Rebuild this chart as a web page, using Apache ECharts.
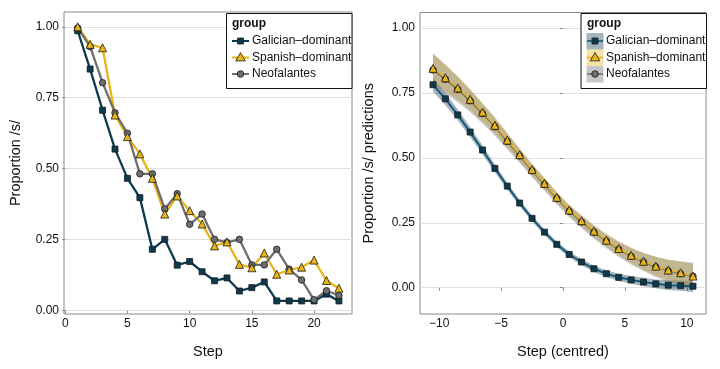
<!DOCTYPE html>
<html><head><meta charset="utf-8">
<script src="https://cdn.jsdelivr.net/npm/echarts@6/dist/echarts.min.js"></script>
<style>html,body{margin:0;padding:0;background:#fff}#c{width:720px;height:369px}</style>
</head><body><div id="c"></div>
<script>
// ---------- data ----------
const groups = ['Galician\u2013dominant', 'Spanish\u2013dominant', 'Neofalantes'];
const steps = [1,2,3,4,5,6,7,8,9,10,11,12,13,14,15,16,17,18,19,20,21,22];
const galicianObs = [0.986,0.851,0.706,0.569,0.466,0.398,0.216,0.251,0.160,0.173,0.137,0.105,0.115,0.069,0.081,0.101,0.034,0.034,0.034,0.034,0.058,0.034];
const spanishObs  = [1.000,0.938,0.926,0.689,0.613,0.552,0.466,0.340,0.404,0.352,0.305,0.228,0.242,0.163,0.151,0.203,0.128,0.143,0.153,0.178,0.106,0.079];
const neoObs      = [0.996,0.930,0.803,0.697,0.625,0.482,0.482,0.358,0.412,0.304,0.340,0.251,0.240,0.251,0.161,0.161,0.216,0.146,0.108,0.038,0.070,0.053];

const centred = [-10.5,-9.5,-8.5,-7.5,-6.5,-5.5,-4.5,-3.5,-2.5,-1.5,-0.5,0.5,1.5,2.5,3.5,4.5,5.5,6.5,7.5,8.5,9.5,10.5];
const galicianPred = [0.781,0.727,0.665,0.599,0.530,0.459,0.391,0.326,0.267,0.214,0.167,0.128,0.099,0.073,0.054,0.040,0.030,0.022,0.015,0.010,0.008,0.006];
const galicianLo   = [0.754,0.703,0.644,0.580,0.513,0.444,0.378,0.314,0.256,0.203,0.156,0.117,0.087,0.061,0.041,0.026,0.015,0.006,-0.002,-0.009,-0.012,-0.016];
const galicianHi   = [0.808,0.751,0.686,0.618,0.547,0.474,0.404,0.338,0.278,0.225,0.178,0.139,0.111,0.085,0.067,0.054,0.045,0.038,0.032,0.029,0.028,0.028];
const spanishPred  = [0.844,0.808,0.769,0.725,0.676,0.625,0.568,0.512,0.455,0.402,0.348,0.299,0.258,0.218,0.183,0.151,0.125,0.102,0.083,0.068,0.058,0.045];
const spanishLo    = [0.786,0.756,0.723,0.684,0.640,0.593,0.540,0.487,0.432,0.380,0.327,0.278,0.236,0.195,0.158,0.124,0.095,0.069,0.047,0.028,0.014,-0.003];
const spanishHi    = [0.902,0.860,0.815,0.766,0.712,0.657,0.596,0.537,0.478,0.424,0.369,0.320,0.280,0.241,0.208,0.178,0.155,0.135,0.119,0.108,0.102,0.093];
const neoPred      = [0.838,0.802,0.763,0.719,0.670,0.619,0.563,0.507,0.450,0.397,0.343,0.294,0.253,0.214,0.179,0.148,0.121,0.099,0.080,0.065,0.054,0.044];
const neoLo        = [0.776,0.747,0.714,0.676,0.632,0.585,0.533,0.480,0.425,0.373,0.320,0.271,0.229,0.189,0.152,0.119,0.089,0.064,0.041,0.022,0.007,-0.008];
const neoHi        = [0.900,0.857,0.812,0.762,0.708,0.653,0.593,0.534,0.475,0.421,0.366,0.317,0.277,0.239,0.206,0.177,0.153,0.134,0.119,0.108,0.101,0.096];

const xTicksLeft  = [0,5,10,15,20];
const xTicksRight = [-10,-5,0,5,10];
const yTicks      = [0,0.25,0.5,0.75,1];

// ---------- styles ----------
const FONT = "'Liberation Sans', Arial, Helvetica, sans-serif";
const C_GAL = '#0c3b50', C_SPA = '#e8b417', C_NEO = '#6e6e6e';
const C_GAL_LINE_R = '#17597a';
const BORDER = '#8a8a8a', GRID = '#e0e0e0', TXT = '#111111';

function zip(xs, ys){ return xs.map((x,i)=>[x, ys[i]]); }

function yAxisDef(gi, min, max, name, gap){
  return {
    type:'value', gridIndex:gi, min:min, max:max, name:name, nameLocation:'middle', nameGap:gap,
    nameTextStyle:{fontFamily:FONT, fontSize:14.5, color:TXT},
    axisLine:{show:false},
    axisTick:{show:true, length:3, lineStyle:{color:BORDER}, customValues:yTicks},
    axisLabel:{fontFamily:FONT, fontSize:12, color:TXT, margin:5, customValues:yTicks, formatter:v=>v.toFixed(2)},
    splitLine:{show:true, lineStyle:{color:GRID, width:1}}
  };
}
function xAxisDef(gi, min, max, name, ticks){
  return {
    type:'value', gridIndex:gi, min:min, max:max, name:name, nameLocation:'middle', nameGap:30,
    nameTextStyle:{fontFamily:FONT, fontSize:14.5, color:TXT},
    axisLine:{show:false},
    axisTick:{show:true, length:3, lineStyle:{color:BORDER}, customValues:ticks},
    axisLabel:{fontFamily:FONT, fontSize:12, color:TXT, margin:4, customValues:ticks,
      formatter:v=> v<0 ? '\u2212'+Math.abs(v) : String(v)},
    splitLine:{show:false}
  };
}

function lineSeries(xi, xs, ys, color, width){
  return {type:'line', xAxisIndex:xi, yAxisIndex:xi, data:zip(xs,ys), showSymbol:false, symbol:'none',
    lineStyle:{color:color, width:width}, z:2, silent:true, animation:false};
}
function pointSeries(xi, xs, ys, symbol, size, color){
  return {type:'scatter', xAxisIndex:xi, yAxisIndex:xi, data:zip(xs,ys), symbol:symbol, symbolSize:size,
    itemStyle:{color:color, borderColor:'#1a1a1a', borderWidth:0.8, opacity:1}, z:3, silent:true, animation:false};
}
function ribbonSeries(xi, xs, lo, hi, color, opacity){
  return {type:'custom', xAxisIndex:xi, yAxisIndex:xi, z:1, silent:true, animation:false,
    data: xs.map((x,i)=>[x, lo[i], hi[i]]),
    encode:{x:0, y:[1,2]},
    renderItem:function(params, api){
      if (params.dataIndex !== 0) return null;
      const top = xs.map((x,i)=>api.coord([x, hi[i]]));
      const bot = xs.map((x,i)=>api.coord([x, lo[i]])).reverse();
      return {type:'polygon', shape:{points:top.concat(bot)}, style:{fill:color, opacity:opacity}};
    }};
}

// ---------- legends (graphics) ----------
function triPts(cx, cy, s){ return [[cx, cy - s*0.62],[cx - s*0.6, cy + s*0.42],[cx + s*0.6, cy + s*0.42]]; }
function keySymbol(kind, cx, cy, color){
  const st = {fill:color, stroke:'#1a1a1a', lineWidth:0.8};
  if (kind==='rect') return {type:'rect', shape:{x:cx-3, y:cy-3, width:6, height:6}, style:st};
  if (kind==='tri') return {type:'polygon', shape:{points:triPts(cx,cy,8)}, style:st};
  return {type:'circle', shape:{cx:cx, cy:cy, r:3.3}, style:st};
}
const legendRows = [41, 57.5, 74];
const kinds = ['rect','tri','circle'];
const colorsL = [C_GAL, C_SPA, C_NEO];
const colorsLineR = [C_GAL_LINE_R, C_SPA, C_NEO];
const keyBg = ['rgba(12,59,80,0.38)','rgba(232,180,23,0.38)','rgba(110,110,110,0.38)'];
const graphics = [];
// left legend
graphics.push({type:'rect', shape:{x:226.5, y:13.5, width:125.5, height:75}, style:{fill:'#fff', stroke:'#111', lineWidth:1}, z:50});
graphics.push({type:'text', x:232, y:24, style:{text:'group', font:'bold 12px '+FONT, fill:'#111', textVerticalAlign:'middle'}, z:51});
groups.forEach((g,i)=>{
  const cy = legendRows[i];
  graphics.push({type:'line', shape:{x1:232, y1:cy, x2:249, y2:cy}, style:{stroke:colorsL[i], lineWidth:2}, z:51});
  graphics.push(Object.assign(keySymbol(kinds[i], 240.5, cy, colorsL[i]), {z:52}));
  graphics.push({type:'text', x:252, y:cy, style:{text:g, font:'12px '+FONT, fill:'#111', textVerticalAlign:'middle'}, z:51});
});
// right legend
graphics.push({type:'rect', shape:{x:581, y:13.5, width:125.5, height:75}, style:{fill:'#fff', stroke:'#111', lineWidth:1}, z:50});
graphics.push({type:'text', x:587, y:24, style:{text:'group', font:'bold 12px '+FONT, fill:'#111', textVerticalAlign:'middle'}, z:51});
groups.forEach((g,i)=>{
  const cy = legendRows[i];
  graphics.push({type:'rect', shape:{x:586.5, y:cy-8, width:17, height:16.5}, style:{fill:keyBg[i]}, z:51});
  graphics.push({type:'line', shape:{x1:587, y1:cy, x2:603, y2:cy}, style:{stroke:colorsLineR[i], lineWidth:1.6}, z:52});
  graphics.push(Object.assign(keySymbol(kinds[i], 595, cy, colorsL[i]), {z:53}));
  graphics.push({type:'text', x:606, y:cy, style:{text:g, font:'12px '+FONT, fill:'#111', textVerticalAlign:'middle'}, z:51});
});

// ---------- option ----------
const option = {
  animation:false,
  backgroundColor:'#ffffff',
  grid:[
    {left:64, right:368, top:12, bottom:55, show:true, borderColor:BORDER, borderWidth:1, backgroundColor:'transparent'},
    {left:420, right:14, top:12.5, bottom:55, show:true, borderColor:BORDER, borderWidth:1, backgroundColor:'transparent'}
  ],
  xAxis:[ xAxisDef(0, -0.1, 23.05, 'Step', xTicksLeft), xAxisDef(1, -11.55, 11.55, 'Step (centred)', xTicksRight) ],
  yAxis:[ yAxisDef(0, -0.012, 1.052, 'Proportion /s/', 41), yAxisDef(1, -0.101, 1.059, 'Proportion /s/ predictions', 44) ],
  series:[
    lineSeries(0, steps, galicianObs, C_GAL, 2.3),
    lineSeries(0, steps, spanishObs, C_SPA, 2.3),
    lineSeries(0, steps, neoObs, C_NEO, 2.3),
    pointSeries(0, steps, galicianObs, 'rect', 6, C_GAL),
    pointSeries(0, steps, neoObs, 'circle', 6.5, C_NEO),
    pointSeries(0, steps, spanishObs, 'triangle', 8, C_SPA),

    ribbonSeries(1, centred, galicianLo, galicianHi, C_GAL, 0.38),
    ribbonSeries(1, centred, spanishLo, spanishHi, C_SPA, 0.38),
    ribbonSeries(1, centred, neoLo, neoHi, C_NEO, 0.38),
    lineSeries(1, centred, galicianPred, C_GAL_LINE_R, 2),
    lineSeries(1, centred, neoPred, C_NEO, 1.5),
    lineSeries(1, centred, spanishPred, C_SPA, 1.5),
    pointSeries(1, centred, galicianPred, 'rect', 6, C_GAL),
    pointSeries(1, centred, neoPred, 'circle', 6.5, C_NEO),
    pointSeries(1, centred, spanishPred, 'triangle', 8, C_SPA)
  ],
  graphic: graphics
};
const chart = echarts.init(document.getElementById('c'), null, {renderer:'canvas'});
chart.setOption(option);
</script>
</body></html>
